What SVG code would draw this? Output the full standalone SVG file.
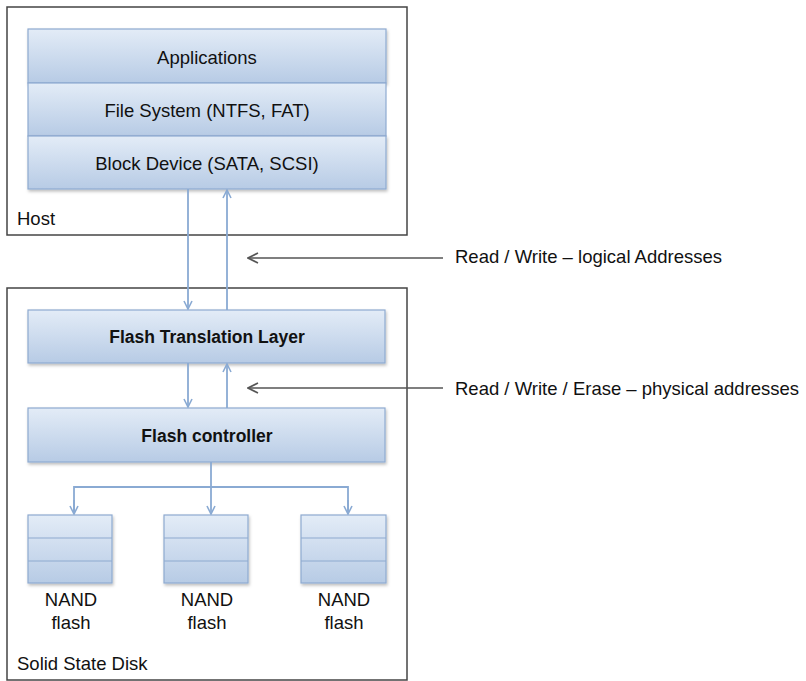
<svg xmlns="http://www.w3.org/2000/svg" width="806" height="681" viewBox="0 0 806 681">
<defs>
<linearGradient id="g" x1="0" y1="0" x2="0" y2="1">
<stop offset="0" stop-color="#e3ecf7"/>
<stop offset="1" stop-color="#b7cbe5"/>
</linearGradient>
<filter id="sh" x="-5%" y="-10%" width="110%" height="130%">
<feDropShadow dx="1" dy="2" stdDeviation="1.5" flood-color="#000" flood-opacity="0.25"/>
</filter>
<marker id="ab" viewBox="0 0 10 10" refX="9" refY="5" markerWidth="10" markerHeight="10" markerUnits="userSpaceOnUse" orient="auto">
<path d="M1,1 L9,5 L1,9" fill="none" stroke="#8aaad3" stroke-width="1.6"/>
</marker>
<marker id="ag" viewBox="0 0 12 12" refX="11" refY="6" markerWidth="12" markerHeight="12" markerUnits="userSpaceOnUse" orient="auto">
<path d="M1,1 L11,6 L1,11" fill="none" stroke="#555" stroke-width="1.6"/>
</marker>
</defs>
<style>
.frame{fill:#fff;stroke:#444;stroke-width:1.5}
.box{fill:url(#g);stroke:#8eaad0;stroke-width:1.2}
.div{stroke:#8eaad0;stroke-width:1.2}
.t{font-family:"Liberation Sans",Arial,sans-serif;font-size:18.5px;fill:#111}
.c{text-anchor:middle}
.b{font-weight:bold;font-size:17.5px}
.blue{fill:none;stroke:#8aaad3;stroke-width:1.8}
.gray{fill:none;stroke:#555;stroke-width:1.5}
</style>
<g id="host">
<rect class="frame" x="7" y="7" width="400" height="228"/>
<text class="t" x="17" y="225">Host</text>
</g>
<g id="ssd">
<rect class="frame" x="7" y="288" width="400" height="392"/>
<text class="t" x="17" y="670">Solid State Disk</text>
</g>
<g id="applications">
<rect class="box" x="28" y="29" width="358" height="54" filter="url(#sh)"/>
<text class="t c" x="207" y="64">Applications</text>
</g>
<g id="filesystem">
<rect class="box" x="28" y="83" width="358" height="53"/>
<text class="t c" x="207" y="117">File System (NTFS, FAT)</text>
</g>
<g id="blockdevice">
<rect class="box" x="28" y="136" width="358" height="53" filter="url(#sh)"/>
<text class="t c" x="207" y="170">Block Device (SATA, SCSI)</text>
</g>
<g id="ftl">
<rect class="box" x="28" y="310" width="357" height="53" filter="url(#sh)"/>
<text class="t c b" x="207" y="343">Flash Translation Layer</text>
</g>
<g id="controller">
<rect class="box" x="28" y="408" width="357" height="54" filter="url(#sh)"/>
<text class="t c b" x="207" y="442">Flash controller</text>
</g>
<g id="nand1">
<rect class="box" x="28" y="515" width="84" height="68" filter="url(#sh)"/>
<line class="div" x1="28" y1="538" x2="112" y2="538"/>
<line class="div" x1="28" y1="561" x2="112" y2="561"/>
<text class="t c" x="71" y="606" font-size="19">NAND</text>
<text class="t c" x="71" y="629" font-size="19">flash</text>
</g>
<g id="nand2">
<rect class="box" x="164" y="515" width="84" height="68" filter="url(#sh)"/>
<line class="div" x1="164" y1="538" x2="248" y2="538"/>
<line class="div" x1="164" y1="561" x2="248" y2="561"/>
<text class="t c" x="207" y="606" font-size="19">NAND</text>
<text class="t c" x="207" y="629" font-size="19">flash</text>
</g>
<g id="nand3">
<rect class="box" x="301" y="515" width="85" height="68" filter="url(#sh)"/>
<line class="div" x1="301" y1="538" x2="386" y2="538"/>
<line class="div" x1="301" y1="561" x2="386" y2="561"/>
<text class="t c" x="344" y="606" font-size="19">NAND</text>
<text class="t c" x="344" y="629" font-size="19">flash</text>
</g>
<g id="connectors">
<line class="blue" x1="188" y1="189" x2="188" y2="309" marker-end="url(#ab)"/>
<line class="blue" x1="227" y1="310" x2="227" y2="190" marker-end="url(#ab)"/>
<line class="blue" x1="188" y1="363" x2="188" y2="407" marker-end="url(#ab)"/>
<line class="blue" x1="227" y1="408" x2="227" y2="364" marker-end="url(#ab)"/>
<polyline class="blue" points="211,462 211,487"/>
<polyline class="blue" points="74,514 74,487 348,487 348,514"/>
<line class="blue" x1="74" y1="500" x2="74" y2="514" marker-end="url(#ab)"/>
<line class="blue" x1="211" y1="487" x2="211" y2="514" marker-end="url(#ab)"/>
<line class="blue" x1="348" y1="500" x2="348" y2="514" marker-end="url(#ab)"/>
<line class="gray" x1="443" y1="258" x2="248" y2="258" marker-end="url(#ag)"/>
<line class="gray" x1="443" y1="388" x2="248" y2="388" marker-end="url(#ag)"/>
</g>
<g id="labels">
<text class="t" x="455" y="263">Read / Write – logical Addresses</text>
<text class="t" x="455" y="395">Read / Write / Erase – physical addresses</text>
</g>
</svg>
